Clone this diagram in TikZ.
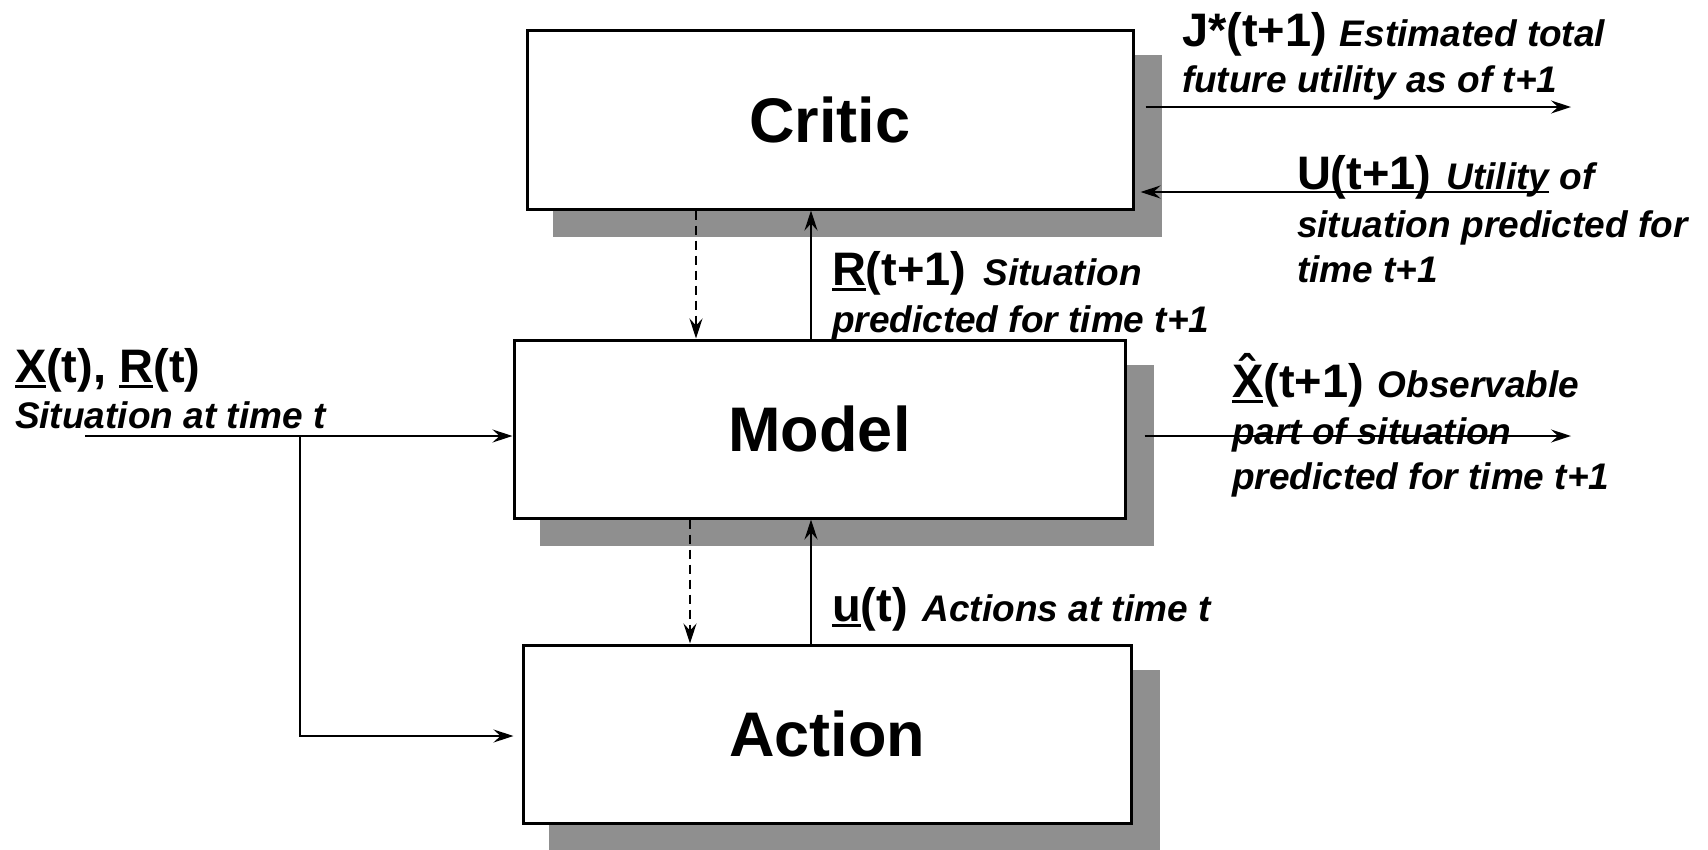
\documentclass[tikz,border=0pt]{standalone}
\usepackage{fontspec}
\setmainfont{Liberation Sans}
\usetikzlibrary{arrows.meta,backgrounds}
\definecolor{shadowc}{RGB}{143,143,143}
\newcommand\ulb[1]{\setbox0\hbox{#1}\rlap{\rule[-6pt]{\wd0}{3.5pt}}\box0}
\newcommand\BigLab{\fontsize{47}{56}\selectfont\bfseries}
\newcommand\ItLab{\fontsize{37}{44}\selectfont\bfseries\itshape}
\begin{document}
\begin{tikzpicture}[x=1pt,y=-1pt,
  box/.style={draw=black,line width=3pt,fill=white,inner sep=0pt,
    font=\fontsize{63}{75}\selectfont\bfseries},
  lab/.style={anchor=base west,inner sep=0pt,outer sep=0pt},
  conn/.style={line width=1.8pt,-{Stealth[length=20pt,width=13pt,inset=7pt]}},
  dconn/.style={conn,dash pattern=on 9pt off 6pt}]
\useasboundingbox (0,0) rectangle (1708,849);
% boxes
\node[box,minimum width=606pt,minimum height=179pt] (critic) at (830,119.5) {Critic};
\node[box,minimum width=611pt,minimum height=178pt] (model) at (819.5,429) {Model};
\node[box,minimum width=608pt,minimum height=178pt] (action) at (827,734) {Action};
\begin{scope}[on background layer]
  \foreach \b in {critic,model,action}
    \fill[shadowc] ([shift={(27,26)}]\b.north west) rectangle ([shift={(27,26)}]\b.south east);
\end{scope}
% vertical connectors
\coordinate (d1) at (696,0);
\coordinate (d2) at (690,0);
\coordinate (s1) at (811,0);
\draw[dconn] (critic.south -| d1) -- (model.north -| d1);
\draw[conn] (model.north -| s1) -- (critic.south -| s1);
\draw[dconn] (model.south -| d2) -- (action.north -| d2);
\draw[conn] (action.north -| s1) -- (model.south -| s1);
% input
\coordinate (in) at (85,436);
\coordinate (br) at (300,436);
\coordinate (ain) at (300,736);
\draw[conn] (in) -- (in -| model.west);
\draw[conn,shorten >=8pt] (br) -- (ain) -- (ain -| action.west);
% outputs
\coordinate (jout) at (1571,107);
\coordinate (uin) at (1549,192);
\coordinate (xout) at (1571,436);
\draw[conn] ([xshift=11pt]critic.east |- jout) -- (jout);
\draw[conn] (uin) -- ([xshift=6pt]critic.east |- uin);
\draw[conn] ([xshift=18pt]model.east |- xout) -- (xout);
% labels
\node[lab] (j1) at (1182,46) {\BigLab J*(t+1)\hspace{13pt}\ItLab Estimated total};
\node[lab] (j2) at (1182,92) {\ItLab future utility as of t+1};
\node[lab] (u1) at (1297,189) {\BigLab U(t+1)\hspace{15pt}\ItLab Utility of};
\node[lab] (u2) at (1297,237) {\ItLab situation predicted for};
\node[lab] (u3) at (1297,282) {\ItLab time t+1};
\node[lab] (r1) at (832,285) {\BigLab\ulb{R}(t+1)\hspace{17pt}\ItLab Situation};
\node[lab] (r2) at (832,332) {\ItLab predicted for time t+1};
\node[lab] (x1) at (15,382) {\BigLab\ulb{X}(t), \ulb{R}(t)};
\node[lab] (x2) at (15,428) {\ItLab Situation at time t};
\node[lab] (h1) at (1232,397) {\BigLab\ulb{\^{X}}(t+1)\hspace{14pt}\ItLab Observable};
\node[lab] (h2) at (1232,444) {\ItLab part of situation};
\node[lab] (h3) at (1232,489) {\ItLab predicted for time t+1};
\node[lab] (ut) at (832,621) {\BigLab\ulb{u}(t)\hspace{15pt}\ItLab Actions at time t};
\end{tikzpicture}
\end{document}
